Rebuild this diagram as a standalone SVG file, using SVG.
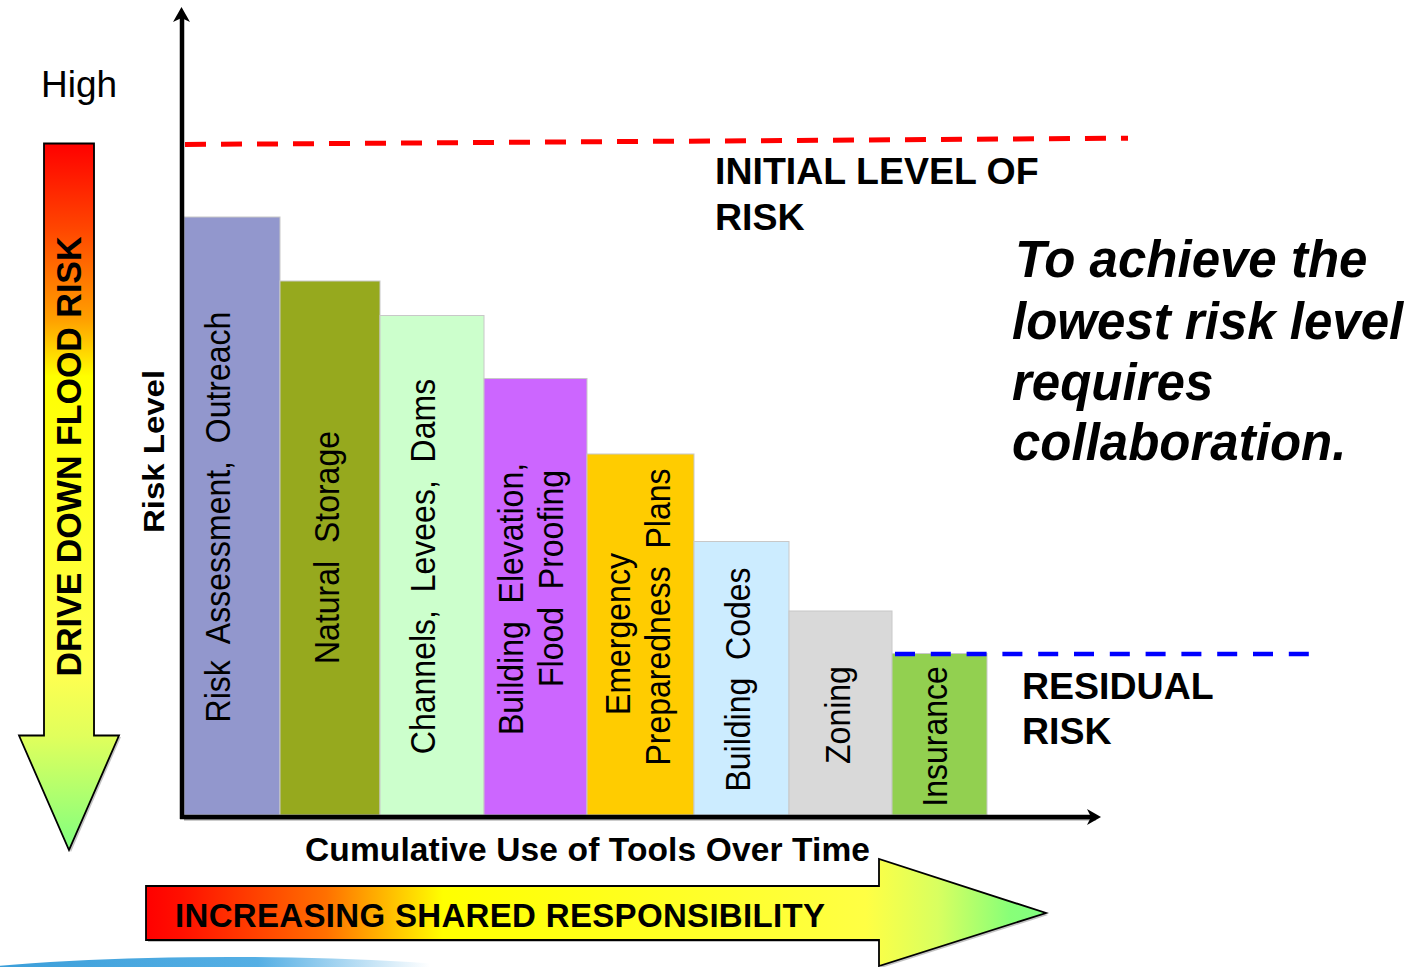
<svg xmlns="http://www.w3.org/2000/svg" width="1421" height="967" viewBox="0 0 1421 967">
<style>
text{font-family:"Liberation Sans",Arial,sans-serif;fill:#000}
.b{font-weight:bold}
.lbl{font-size:32px}
.bar{stroke:#c8c8c8;stroke-width:1}
.ax{stroke:#000;stroke-width:4.5;fill:none}
.sh{stroke:#9a9a9a;stroke-width:2;fill:none}
</style>
<defs>
<linearGradient id="gv" x1="0" y1="143" x2="0" y2="850" gradientUnits="userSpaceOnUse">
<stop offset="0" stop-color="#FF0000"/>
<stop offset="0.12" stop-color="#FF4500"/>
<stop offset="0.25" stop-color="#FFA000"/>
<stop offset="0.33" stop-color="#FFFF00"/>
<stop offset="0.75" stop-color="#FFFF50"/>
<stop offset="0.84" stop-color="#E0FF5C"/>
<stop offset="1" stop-color="#80FF80"/>
</linearGradient>
<linearGradient id="gh" x1="146" y1="0" x2="1046" y2="0" gradientUnits="userSpaceOnUse">
<stop offset="0" stop-color="#FF0000"/>
<stop offset="0.04" stop-color="#FF1000"/>
<stop offset="0.2" stop-color="#FF7000"/>
<stop offset="0.33" stop-color="#FFFF00"/>
<stop offset="0.8" stop-color="#FFFF44"/>
<stop offset="0.88" stop-color="#D8FF60"/>
<stop offset="0.96" stop-color="#88FF78"/>
<stop offset="1" stop-color="#80FF80"/>
</linearGradient>
<linearGradient id="gb" x1="0" y1="0" x2="430" y2="0" gradientUnits="userSpaceOnUse">
<stop offset="0" stop-color="#3C9FDA"/>
<stop offset="0.6" stop-color="#55AFE4"/>
<stop offset="1" stop-color="#FFFFFF"/>
</linearGradient>
</defs>
<rect width="1421" height="967" fill="#fff"/>

<g id="decor-arc">
<ellipse cx="230" cy="1010" rx="420" ry="53" fill="url(#gb)"/>
</g>

<g id="bars">
<g id="bar-risk-assessment"><rect class="bar" x="184" y="217" width="96" height="598" fill="#9297CD"/>
<text class="lbl" text-anchor="middle" transform="translate(230,517) rotate(-90) scale(1,1.09)" xml:space="preserve">Risk  Assessment,  Outreach</text></g>
<g id="bar-natural-storage"><rect class="bar" x="280" y="281" width="100" height="534" fill="#96A91E"/>
<text class="lbl" text-anchor="middle" transform="translate(339,547.5) rotate(-90) scale(1,1.09)" xml:space="preserve">Natural  Storage</text></g>
<g id="bar-channels"><rect class="bar" x="380" y="315.5" width="104" height="499.5" fill="#CCFFCC"/>
<text class="lbl" text-anchor="middle" transform="translate(435,566.5) rotate(-90) scale(1,1.09)" xml:space="preserve">Channels,  Levees,  Dams</text></g>
<g id="bar-building-elevation"><rect class="bar" x="484" y="378.5" width="103" height="436.5" fill="#CC66FF"/>
<text class="lbl" text-anchor="middle" transform="translate(523,599) rotate(-90) scale(1,1.09)" xml:space="preserve">Building  Elevation,</text>
<text class="lbl" text-anchor="middle" transform="translate(563,578.5) rotate(-90) scale(1,1.09)" xml:space="preserve">Flood  Proofing</text></g>
<g id="bar-emergency"><rect class="bar" x="587" y="454" width="107" height="361" fill="#FFCC00"/>
<text class="lbl" text-anchor="middle" transform="translate(630,634) rotate(-90) scale(1,1.09)">Emergency</text>
<text class="lbl" text-anchor="middle" transform="translate(670,617) rotate(-90) scale(1,1.09)" xml:space="preserve">Preparedness  Plans</text></g>
<g id="bar-building-codes"><rect class="bar" x="694" y="541.5" width="95" height="273.5" fill="#CCECFF"/>
<text class="lbl" text-anchor="middle" transform="translate(750,679.5) rotate(-90) scale(1,1.09)" xml:space="preserve">Building  Codes</text></g>
<g id="bar-zoning"><rect class="bar" x="789" y="611" width="103" height="204" fill="#D9D9D9"/>
<text class="lbl" text-anchor="middle" transform="translate(850,715) rotate(-90) scale(1,1.09)">Zoning</text></g>
<g id="bar-insurance"><rect class="bar" x="892" y="653.5" width="95" height="161.5" fill="#92D050"/>
<text class="lbl" text-anchor="middle" transform="translate(947,736.5) rotate(-90) scale(1,1.09)">Insurance</text></g>
</g>

<g id="connectors">
<line class="sh" x1="184" y1="819.5" x2="1096" y2="819.5"/>
<line class="ax" x1="182" y1="18" x2="182" y2="819"/>
<path d="M181.5,7 L190,22 L181.5,18 L173,22 Z" fill="#000"/>
<line class="ax" x1="180" y1="817" x2="1092" y2="817"/>
<path d="M1101,817 L1087,809 L1091,817 L1087,825 Z" fill="#000"/>
<line x1="185" y1="144.5" x2="1128" y2="138.2" stroke="#FF0000" stroke-width="5" stroke-dasharray="21 15"/>
<line x1="895" y1="654" x2="1312" y2="654" stroke="#0000FF" stroke-width="4.5" stroke-dasharray="20 15.8"/>
</g>

<g id="drive-down-arrow">
<path d="M45,145 L95,145 L95,737 L121,737 L71,852 L21,737 L45,737 Z" fill="#888" opacity="0.5"/>
<path d="M44,143.5 L94,143.5 L94,735.5 L119,735.5 L69,850 L19,735.5 L44,735.5 Z" fill="url(#gv)" stroke="#000" stroke-width="1.8" stroke-linejoin="miter"/>
<text class="b" font-size="34" text-anchor="middle" transform="translate(81,456.5) rotate(-90) scale(1,1.05)">DRIVE DOWN FLOOD RISK</text>
</g>

<g id="shared-arrow">
<path d="M148,888 L881,888 L881,861 L1048,915 L881,968 L881,942 L148,942 Z" fill="#888" opacity="0.5"/>
<path d="M146,886 L879,886 L879,859 L1046,913 L879,966 L879,940 L146,940 Z" fill="url(#gh)" stroke="#000" stroke-width="1.8"/>
<text class="b" x="175" y="927" font-size="33" textLength="650" lengthAdjust="spacing">INCREASING SHARED RESPONSIBILITY</text>
</g>

<g id="labels">
<text x="41" y="97" font-size="37">High</text>
<text class="b" font-size="33" text-anchor="middle" transform="translate(164,451.5) rotate(-90) scale(1,0.92)">Risk Level</text>
<text class="b" x="305" y="861" font-size="33.5" textLength="565" lengthAdjust="spacing">Cumulative Use of Tools Over Time</text>
<text class="b" x="715" y="184" font-size="37.5">INITIAL LEVEL OF</text>
<text class="b" x="715" y="230" font-size="37.5">RISK</text>
<text class="b" x="1022" y="699" font-size="37.5">RESIDUAL</text>
<text class="b" x="1022" y="744" font-size="37.5">RISK</text>
<g font-size="51" font-weight="bold" font-style="italic">
<text x="1015" y="277">To achieve the</text>
<text x="1012" y="339">lowest risk level</text>
<text x="1012" y="400">requires</text>
<text x="1012" y="460">collaboration.</text>
</g>
</g>
</svg>
